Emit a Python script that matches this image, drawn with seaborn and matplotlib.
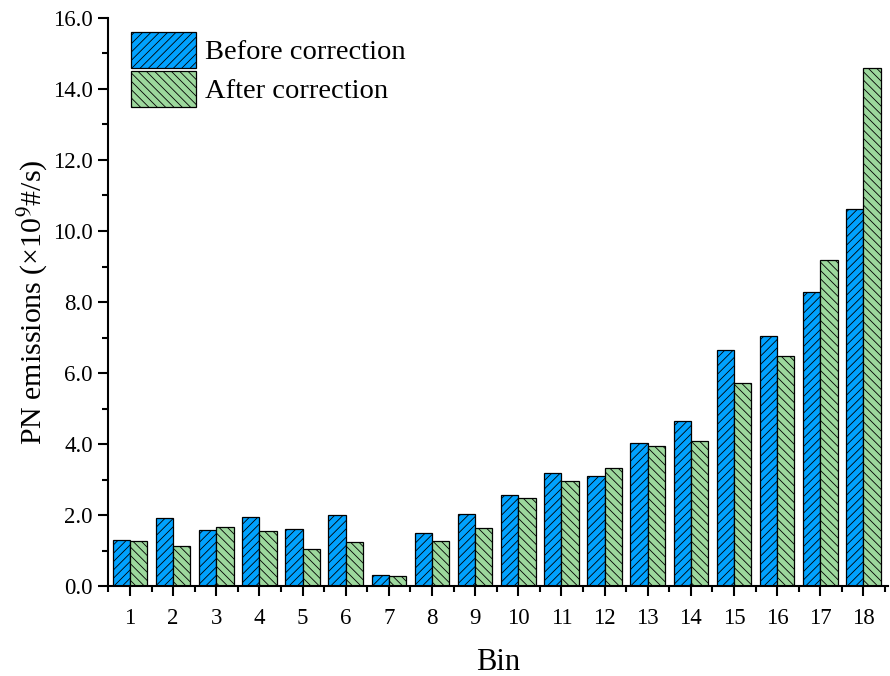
import matplotlib
matplotlib.use("Agg")
import matplotlib.pyplot as plt
import seaborn as sns
import pandas as pd
from matplotlib.ticker import MultipleLocator, FormatStrFormatter

bins = [str(i) for i in range(1, 19)]
before = [1.29, 1.91, 1.58, 1.94, 1.61, 1.99, 0.31, 1.50, 2.03, 2.55, 3.17, 3.11, 4.03, 4.66, 6.66, 7.05, 8.28, 10.63]
after = [1.26, 1.13, 1.66, 1.54, 1.04, 1.24, 0.29, 1.27, 1.63, 2.47, 2.96, 3.33, 3.94, 4.08, 5.73, 6.47, 9.18, 14.60]
series = ["Before correction", "After correction"]
colors = ["#00A2FF", "#9DD89D"]
hatches = ["////", "\\\\\\\\"]

df = pd.DataFrame({
    "Bin": bins * 2,
    "value": before + after,
    "series": [series[0]] * len(bins) + [series[1]] * len(bins),
})

sns.set_theme(style="ticks")
plt.rcParams["font.family"] = ["Liberation Serif", "DejaVu Serif"]
plt.rcParams["mathtext.fontset"] = "stix"
plt.rcParams["hatch.linewidth"] = 0.6
plt.rcParams["text.color"] = "black"
plt.rcParams["axes.labelcolor"] = "black"

fig = plt.figure(figsize=(8.9, 6.76), dpi=100)
ax = fig.add_axes([0.1213, 0.1331, 0.877, 0.8403])

sns.barplot(data=df, x="Bin", y="value", hue="series", hue_order=series,
            palette=colors, order=bins, width=0.8, edgecolor="black",
            linewidth=0.9, saturation=1, ax=ax)

for cont, h in zip(ax.containers, hatches):
    for p in cont.patches:
        p.set_hatch(h)

ax.set_xlim(-0.51, 17.58)
ax.set_ylim(0, 16)
ax.yaxis.set_major_locator(MultipleLocator(2))
ax.yaxis.set_minor_locator(MultipleLocator(1))
ax.yaxis.set_major_formatter(FormatStrFormatter("%.1f"))
ax.xaxis.set_minor_locator(MultipleLocator(1, offset=0.5))

for s in ["top", "right"]:
    ax.spines[s].set_visible(False)
for s in ["left", "bottom"]:
    ax.spines[s].set_linewidth(1.5)
    ax.spines[s].set_color("black")

ax.tick_params(axis="both", which="major", direction="out", length=7.5, width=1.5,
               labelsize=16.5, colors="black", labelcolor="black")
ax.tick_params(axis="x", which="major", pad=8)
ax.tick_params(axis="both", which="minor", direction="out", length=4, width=1.5,
               colors="black")

ax.set_xlabel("Bin", fontsize=22, labelpad=14)
ax.set_ylabel("PN emissions (×10$^{9}$#/s)", fontsize=21.5, labelpad=2)

leg = ax.get_legend()
if leg is not None:
    leg.remove()
ax.legend(handles=list(ax.containers), labels=series, loc="upper left",
          bbox_to_anchor=(0.029, 0.975), frameon=False, fontsize=20.5,
          handlelength=2.3, handleheight=1.55, labelspacing=0.12,
          handletextpad=0.3, borderpad=0, borderaxespad=0)

fig.savefig("out.png", dpi=100)
